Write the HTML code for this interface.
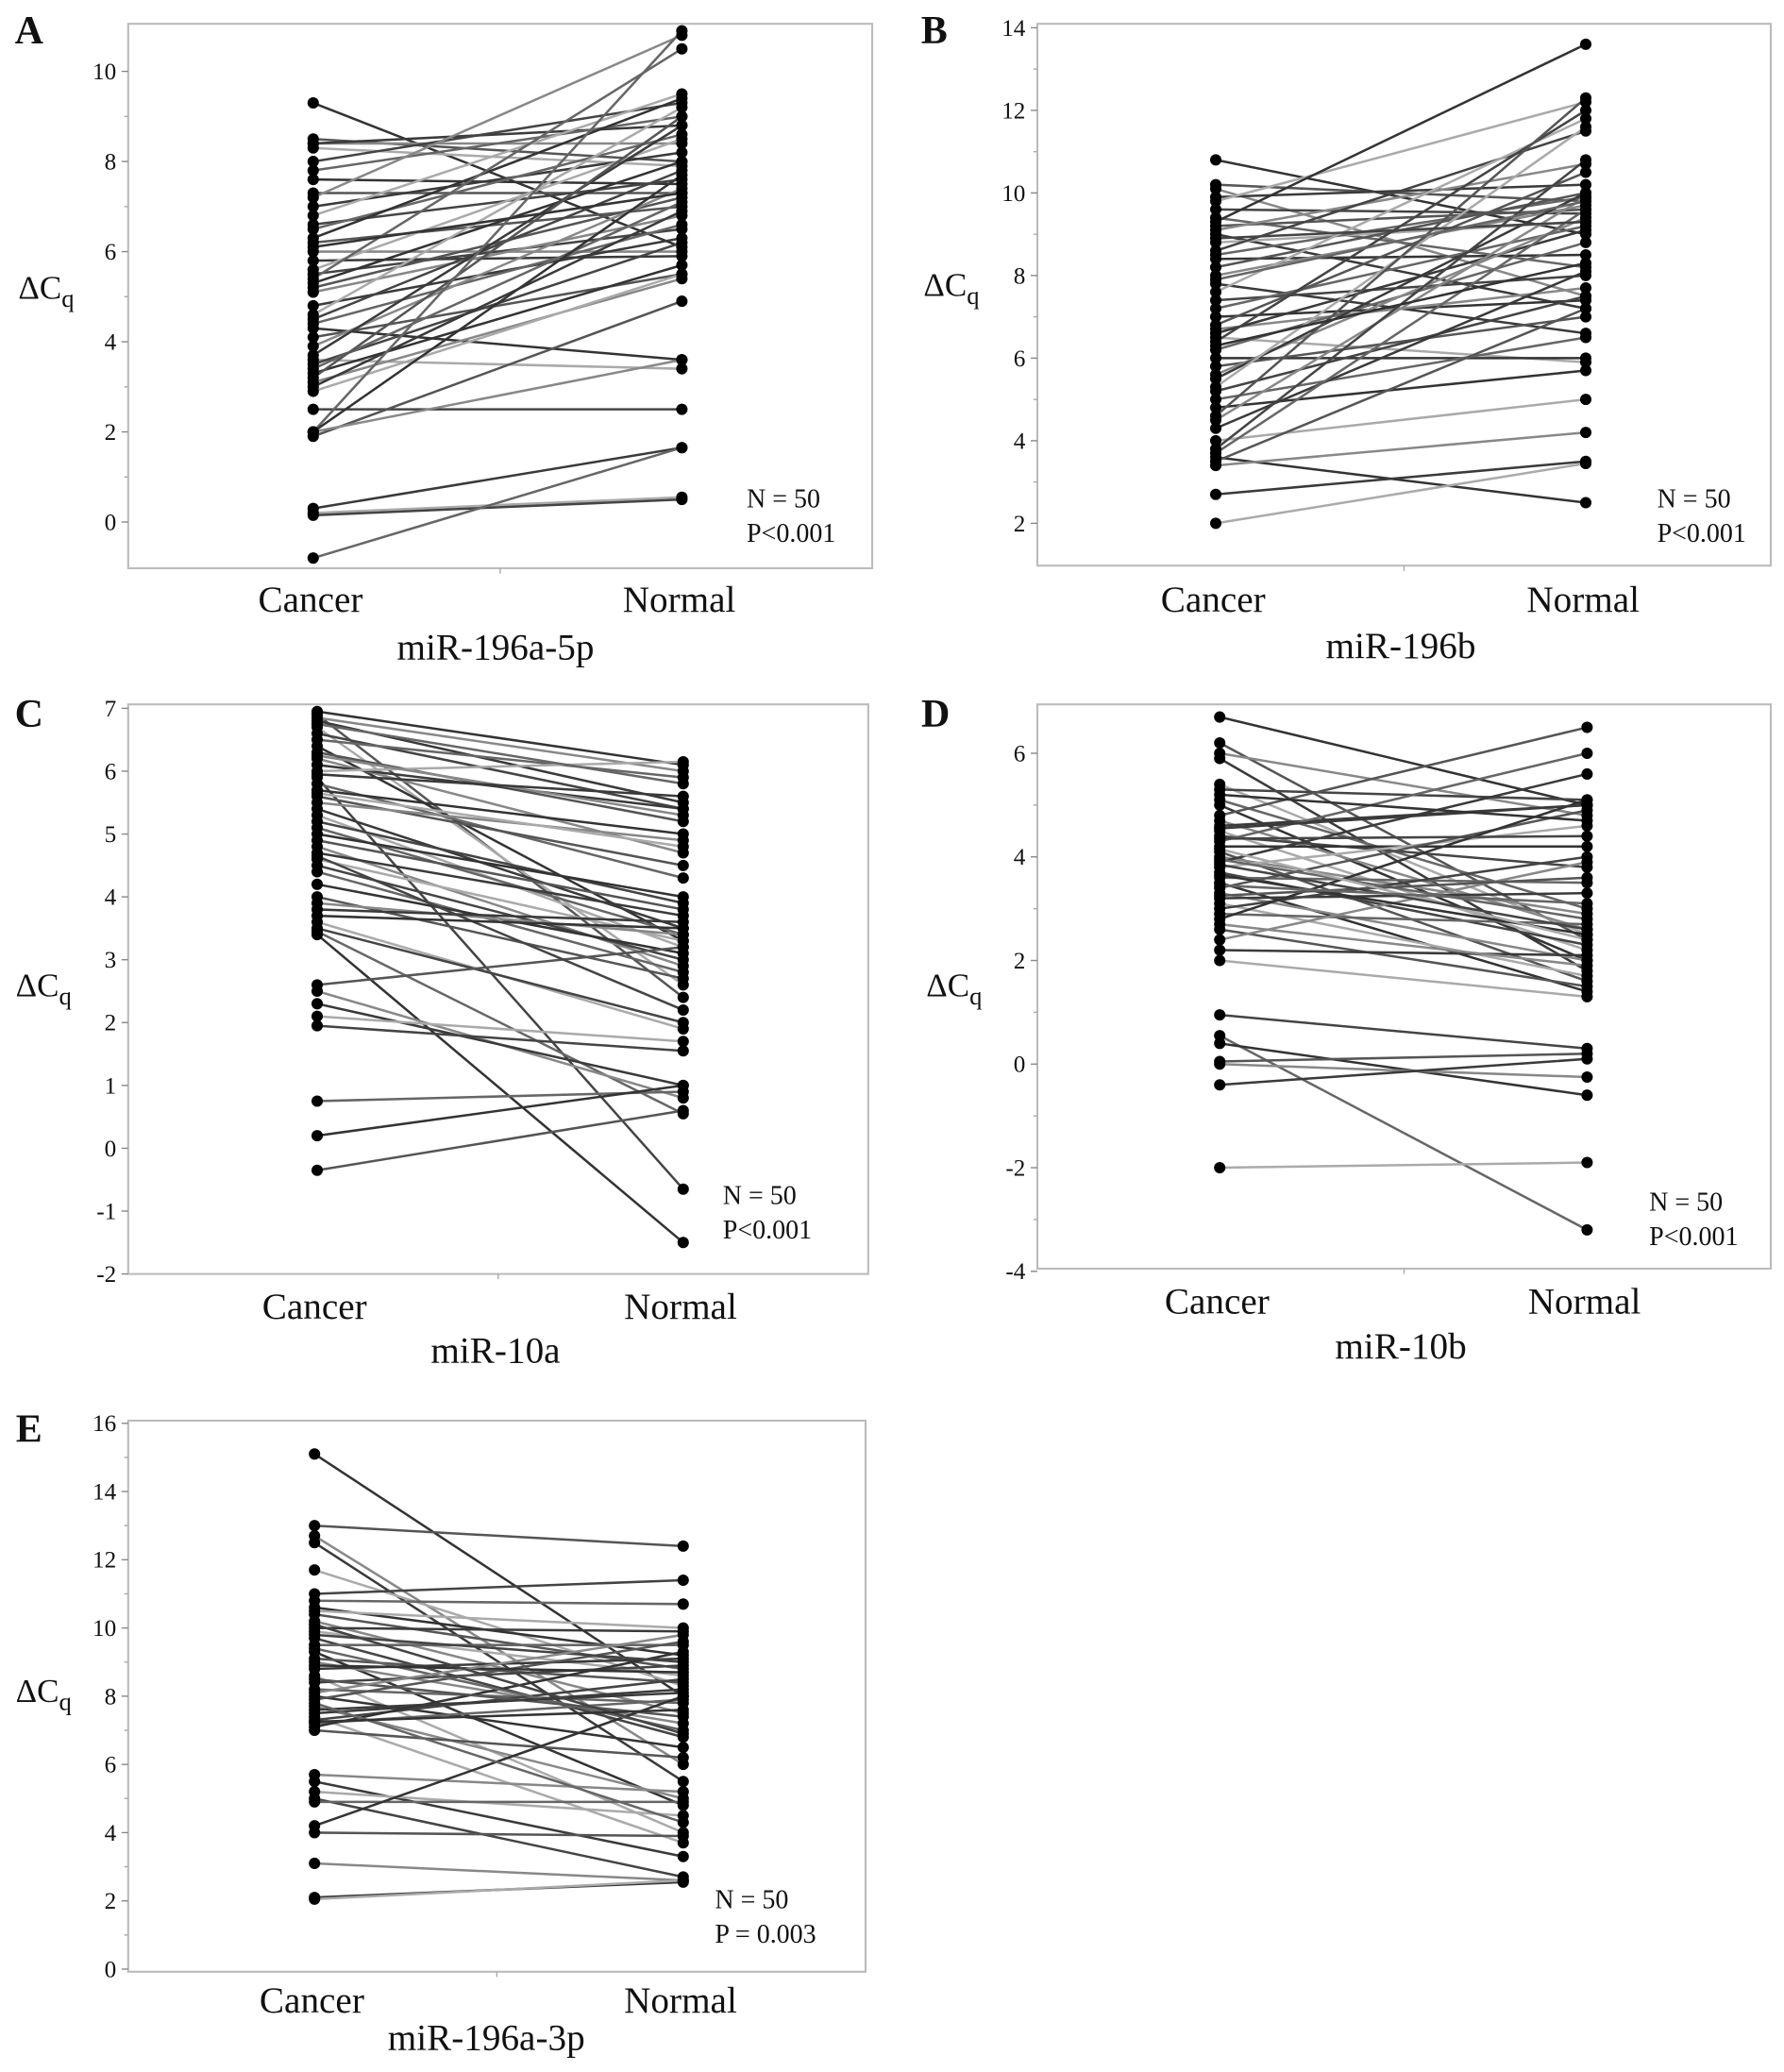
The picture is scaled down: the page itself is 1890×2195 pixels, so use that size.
<!DOCTYPE html>
<html><head><meta charset="utf-8"><style>
html,body{margin:0;padding:0;background:#fff;}
svg, svg text{font-family:"Liberation Serif","Times New Roman",serif;}
</style></head><body>
<svg id="fig" width="1890" height="2190" viewBox="0 0 1350 1564.3" xmlns="http://www.w3.org/2000/svg" font-family="Liberation Serif, serif"></svg>
<script>
const groupLabels = ["Cancer","Normal"];
const aCancer = [9.3,8.5,8.4,8.4,8.3,8.0,7.8,7.6,7.3,7.2,7.0,6.8,6.6,6.5,6.3,6.2,6.0,5.8,5.6,5.5,5.4,5.3,5.2,5.1,4.8,4.6,4.5,4.4,4.3,4.1,3.9,3.7,3.6,3.5,3.4,3.3,3.2,3.1,3.0,2.9,2.5,2.0,2.0,1.9,2.0,0.3,0.2,0.15,-0.8,6.1];
const aNormal = [6.1,8.0,8.4,8.8,7.9,9.3,9.0,7.5,7.3,10.8,8.2,9.5,7.6,8.6,9.4,7.0,6.0,5.9,8.5,6.5,10.5,8.0,7.2,6.8,6.3,9.2,7.8,6.6,3.6,5.5,7.4,8.8,3.4,6.2,7.1,5.7,9.0,5.4,6.9,5.5,2.5,10.9,7.7,4.9,3.6,1.65,0.55,0.5,1.65,7.3];
const bCancer = [10.8,10.2,10.1,9.9,9.8,9.6,9.4,9.3,9.2,9.1,9.0,8.8,8.6,8.5,8.4,8.2,8.0,7.8,7.6,7.4,7.2,7.0,6.8,6.7,6.6,6.5,6.4,6.2,6.0,5.8,5.6,5.5,5.3,5.2,5.0,4.8,4.6,4.5,4.3,4.0,3.8,3.7,3.6,3.5,3.4,2.7,2.0,8.9,7.9,6.3];
const bNormal = [9.0,9.8,7.5,10.2,12.2,9.5,8.2,13.6,9.6,10.7,7.2,9.3,11.5,9.9,8.5,10.0,9.7,6.6,11.8,8.0,9.2,7.4,10.5,7.7,9.1,5.9,12.0,8.8,6.0,7.0,9.4,10.0,11.6,7.5,6.5,5.7,12.3,9.9,8.1,5.0,10.8,9.6,2.5,7.2,4.2,3.5,3.45,9.3,9.8,8.3];
const cCancer = [6.95,6.9,6.85,6.8,6.7,6.6,6.5,6.4,6.3,6.2,6.1,6.0,5.9,5.8,5.7,5.6,5.5,5.4,5.3,5.2,5.1,5.0,4.9,4.8,4.7,4.6,4.5,4.4,4.2,4.0,3.9,3.8,3.6,3.5,3.45,3.4,2.6,2.5,2.3,2.1,1.95,0.75,0.2,-0.35,6.25,5.95,5.65,4.65,6.75,3.7];
const cNormal = [6.1,2.4,6.0,5.5,2.6,5.4,5.9,3.3,5.2,4.7,5.4,6.15,-0.65,4.3,5.0,4.5,4.9,3.5,3.2,3.9,3.4,4.0,3.8,2.9,3.7,3.3,3.0,2.8,3.1,2.7,3.4,3.6,1.9,2.0,0.55,-1.5,3.2,0.8,1.0,1.7,1.55,0.9,1.0,0.6,5.3,5.6,4.8,2.2,5.8,3.5];
const dCancer = [6.7,6.2,6.0,5.9,5.4,5.3,5.1,5.0,4.8,4.7,4.6,4.5,4.4,4.3,4.2,4.1,4.0,3.9,3.8,3.7,3.6,3.5,3.4,3.3,3.2,3.1,3.0,2.9,2.8,2.6,2.4,2.2,2.0,4.35,3.95,3.65,3.25,2.7,4.55,4.15,0.95,0.55,0.4,0.05,0.0,-0.4,-2.0,3.85,3.45,5.2];
const dNormal = [5.0,2.4,4.8,1.8,2.5,5.1,3.0,2.0,6.5,2.6,5.0,2.2,3.8,6.0,4.2,1.6,2.9,5.6,4.6,2.3,3.5,1.4,4.9,2.0,3.3,1.7,4.0,2.7,5.1,1.5,3.9,2.1,1.3,4.4,2.8,2.5,3.6,1.9,5.0,2.4,0.3,-3.2,-0.6,0.2,-0.25,0.1,-1.9,2.6,3.1,4.7];
const eCancer = [15.1,13.0,12.7,12.5,11.7,11.0,10.8,10.6,10.4,10.2,10.0,9.9,9.7,9.5,9.3,9.1,9.0,8.8,8.6,8.4,8.2,8.0,7.9,7.7,7.5,7.4,7.3,7.2,7.1,7.0,5.7,5.5,5.2,5.0,4.9,4.2,4.0,3.1,2.1,2.05,9.8,9.4,8.9,8.5,8.1,7.6,10.5,10.1,7.8,7.25];
const eNormal = [8.0,12.4,6.0,5.5,8.3,11.4,10.7,9.2,8.8,7.5,9.9,8.6,6.8,9.5,4.8,8.4,7.2,9.1,4.0,8.9,7.8,6.5,9.6,5.0,8.2,3.7,8.5,7.9,9.3,6.2,5.2,3.3,4.5,2.7,4.9,8.0,3.9,2.6,2.55,2.6,9.0,7.0,8.7,7.4,9.8,8.1,10.0,6.9,4.3,7.6];
const aTicks = [0,2,4,6,8,10];
const bTicks = [2,4,6,8,10,12,14];
const cTicks = [-2,-1,0,1,2,3,4,5,6,7];
const dTicks = [-4,-2,0,2,4,6];
const eTicks = [0,2,4,6,8,10,12,14,16];

const NS="http://www.w3.org/2000/svg";
const svg=document.getElementById('fig');
function mk(tag,attrs,parent){const e=document.createElementNS(NS,tag);for(const k in attrs)e.setAttribute(k,attrs[k]);(parent||svg).appendChild(e);return e;}
function txt(s,x,y,size,anchor,parent,weight){const t=mk('text',{x:x,y:y,'font-size':size,'text-anchor':anchor||'middle',fill:'#111','font-family':'Liberation Serif, serif'},parent);if(weight)t.setAttribute('font-weight',weight);t.textContent=s;return t;}

function panel(cfg){
  const g=mk('g',{});
  
  
  const yScale=v=>cfg.y0+(v-cfg.v0)*(cfg.y1-cfg.y0)/(cfg.v1-cfg.v0);
  const xScale=i=>i===0?cfg.xc:cfg.xn;
  const fr=mk('rect',{x:cfg.fx0,y:cfg.fy0,width:cfg.fx1-cfg.fx0,height:cfg.fy1-cfg.fy0,fill:'none',stroke:'#bbb','stroke-width':1.5},g);
  
  
  const yax=mk('g',{},g);
  
  
  const step=cfg.ticks[1]-cfg.ticks[0];
  cfg.ticks.forEach((t,i)=>{
    const y=yScale(t);
    mk('line',{x1:cfg.fx0-5,x2:cfg.fx0,y1:y,y2:y,stroke:'#888','stroke-width':1},yax);
    if(step>1 && i<cfg.ticks.length-1){const ym=yScale(t+step/2);mk('line',{x1:cfg.fx0-3,x2:cfg.fx0,y1:ym,y2:ym,stroke:'#aaa','stroke-width':1},yax);}
    const lb=txt(String(t),cfg.fx0-9,y+6,18,'end',yax);
    
    
  });
  mk('line',{x1:(cfg.fx0+cfg.fx1)/2,x2:(cfg.fx0+cfg.fx1)/2,y1:cfg.fy1,y2:cfg.fy1+4,stroke:'#aaa'},g);
  const lines=mk('g',{},g);
  
  
  const shades=['#333','#555','#888','#3a3a3a','#aaa','#444','#666'];
  cfg.cancer.forEach((c,i)=>{
    const n=cfg.normal[i];
    const l=mk('line',{x1:xScale(0),y1:yScale(c),x2:xScale(1),y2:yScale(n),stroke:shades[i%shades.length],'stroke-width':1.8},lines);
    
    
  });
  const dots=mk('g',{},g);
  
  
  cfg.cancer.forEach((c,i)=>{
    const d1=mk('circle',{cx:xScale(0),cy:yScale(c),r:4.3,fill:'#000'},dots);
    
    
    const d2=mk('circle',{cx:xScale(1),cy:yScale(cfg.normal[i]),r:4.3,fill:'#000'},dots);
    
    
  });
  const l1=txt(groupLabels[0],cfg.xc-2,cfg.labY,28,'middle',g);
  
  
  const l2=txt(groupLabels[1],cfg.xn-2,cfg.labY,28,'middle',g);
  
  
  const tt=txt(cfg.title,cfg.titleX,cfg.titleY,28,'middle',g);
  
  
  const yt=mk('text',{x:cfg.ylx,y:cfg.yly,'font-size':25,'text-anchor':'middle',fill:'#111','font-family':'Liberation Serif, serif'},g);
  
  
  yt.innerHTML='ΔC<tspan font-size="19" dy="6">q</tspan>';
  const pl=txt(cfg.letter,cfg.lx,cfg.ly,30,'middle',g,'bold');
  
  
  const s1=txt('N = 50',cfg.sx,cfg.sy,20,'start',g);
  
  
  const s2=txt(cfg.p,cfg.sx,cfg.sy+26,20,'start',g);
  
  
}

panel({letter:'A',cancer:aCancer,normal:aNormal,ticks:aTicks,v0:0,y0:395,v1:10,y1:54,fx0:97,fx1:660,fy0:18,fy1:430,xc:237,xn:516,labY:463,title:'miR-196a-5p',titleX:375,titleY:499,ylx:35,yly:226,lx:22,ly:33,sx:565,sy:384,p:'P<0.001'});
panel({letter:'B',cancer:bCancer,normal:bNormal,ticks:bTicks,v0:2,y0:396,v1:14,y1:21,fx0:785,fx1:1340,fy0:18,fy1:428,xc:920,xn:1200,labY:463,title:'miR-196b',titleX:1060,titleY:498,ylx:720,yly:224,lx:707,ly:33,sx:1254,sy:384,p:'P<0.001'});
panel({letter:'C',cancer:cCancer,normal:cNormal,ticks:cTicks,v0:-2,y0:964,v1:7,y1:536,fx0:97,fx1:657,fy0:533,fy1:964,xc:240,xn:517,labY:998,title:'miR-10a',titleX:375,titleY:1031,ylx:33,yly:754,lx:22,ly:550,sx:547,sy:911,p:'P<0.001'});
panel({letter:'D',cancer:dCancer,normal:dNormal,ticks:dTicks,v0:-4,y0:962,v1:6,y1:570,fx0:785,fx1:1340,fy0:533,fy1:960,xc:923,xn:1201,labY:994,title:'miR-10b',titleX:1060,titleY:1028,ylx:722,yly:754,lx:708,ly:550,sx:1248,sy:916,p:'P<0.001'});
panel({letter:'E',cancer:eCancer,normal:eNormal,ticks:eTicks,v0:0,y0:1490,v1:16,y1:1077,fx0:97,fx1:655,fy0:1075,fy1:1492,xc:238,xn:517,labY:1523,title:'miR-196a-3p',titleX:368,titleY:1551,ylx:33,yly:1288,lx:22,ly:1091,sx:541,sy:1444,p:'P = 0.003'});
</script>
</body></html>
